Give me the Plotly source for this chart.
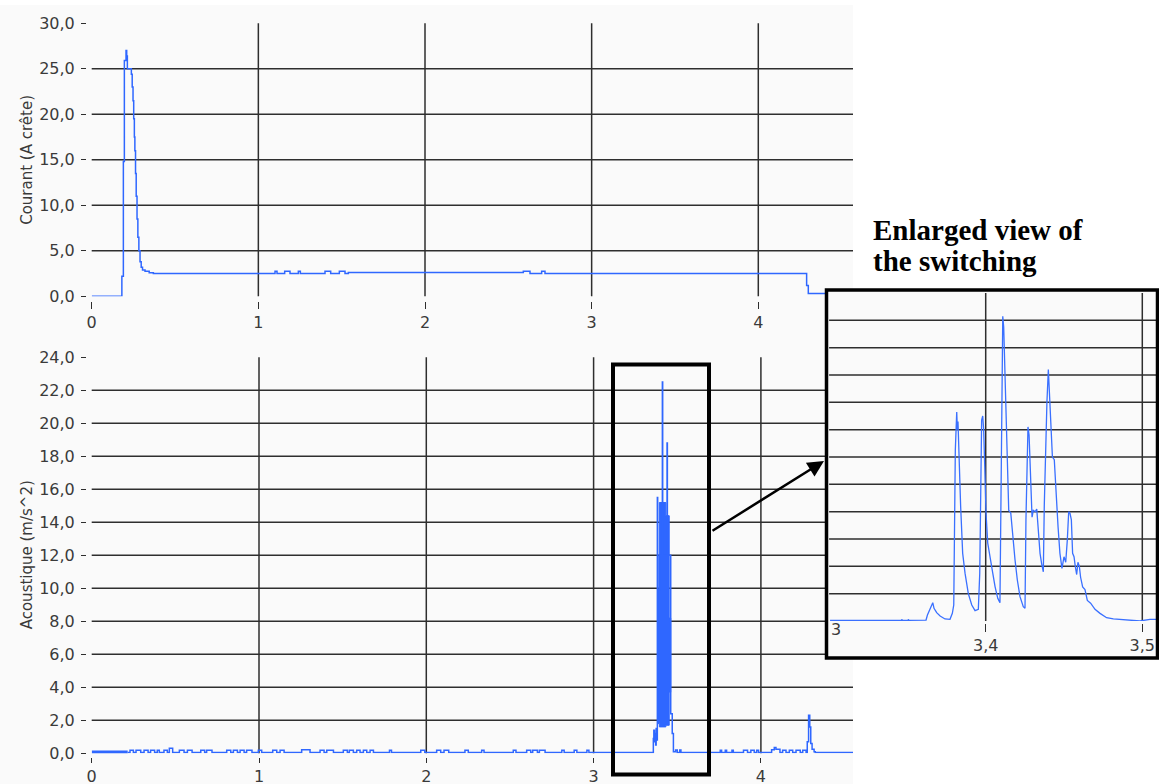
import plotly.graph_objects as go

W, H = 1159, 784

# ---------------- data ----------------
# Courant (A crête) versus time (s), step-held samples
cur_t = [0.0, 0.181, 0.190, 0.196, 0.206, 0.210, 0.214, 0.238, 0.243, 0.248, 0.252,
         0.256, 0.259, 0.263, 0.267, 0.272, 0.277, 0.283, 0.290, 0.297, 0.305, 0.320,
         0.345, 0.370, 1.100, 1.112, 1.158, 1.190, 1.240, 1.252, 1.400, 1.434, 1.486,
         1.520, 1.540, 2.590, 2.630, 2.700, 2.720, 4.290, 4.300, 4.410]
cur_a = [0.0, 2.2, 14.8, 25.9, 27.0, 26.4, 25.0, 24.4, 23.0, 21.5, 19.5,
         17.5, 16.0, 13.5, 11.0, 8.5, 6.5, 5.0, 3.8, 3.2, 2.9, 2.75,
         2.6, 2.5, 2.75, 2.5, 2.75, 2.5, 2.75, 2.5, 2.75, 2.5, 2.75,
         2.5, 2.62, 2.75, 2.5, 2.75, 2.5, 1.2, 0.3, 0.3]

# Acoustique (m/s^2): pre-trigger noise segment
pre_t = [0.0, 0.215]
pre_a = [0.07, 0.07]

# Acoustique (m/s^2) versus time (s), step-held samples
acc_t = [0.215,
         0.229, 0.249, 0.265, 0.293, 0.313, 0.337, 0.352, 0.376, 0.392, 0.404,
         0.432, 0.452, 0.464, 0.484, 0.524, 0.552, 0.572, 0.600, 0.652, 0.675,
         0.687, 0.719, 0.807, 0.831, 0.847, 0.871, 0.887, 0.911, 0.926, 0.958,
         0.996, 1.016, 1.082, 1.106, 1.126, 1.150, 1.255, 1.305, 1.365, 1.389,
         1.405, 1.445, 1.504, 1.528, 1.540, 1.564, 1.584, 1.604, 1.624, 1.644,
         1.664, 1.684, 1.780, 1.792, 1.967, 1.991, 2.062, 2.086, 2.106, 2.134,
         2.231, 2.251, 2.331, 2.345, 2.520, 2.536, 2.600, 2.624, 2.636, 2.664,
         2.676, 2.710, 2.810, 2.824, 2.884, 2.900, 2.960, 2.972,
         3.357, 3.360, 3.364, 3.367, 3.371, 3.374, 3.378,
         3.381, 3.383, 3.393, 3.411, 3.413, 3.439, 3.441, 3.461, 3.470, 3.477,
         3.490, 3.500, 3.515, 3.522,
         3.757, 3.765, 3.787, 3.795, 3.827, 3.835,
         3.896, 3.920, 3.940, 3.960, 3.975, 3.986,
         4.064, 4.080, 4.090, 4.114,
         4.130, 4.150, 4.170, 4.190, 4.210, 4.235, 4.250, 4.270,
         4.277, 4.285, 4.292, 4.298, 4.306, 4.318, 4.325, 4.551]
acc_a = [0.05,
         0.18, 0.05, 0.18, 0.05, 0.18, 0.05, 0.18, 0.05, 0.18, 0.05,
         0.18, 0.05, 0.30, 0.05, 0.18, 0.05, 0.18, 0.05, 0.18, 0.05,
         0.18, 0.05, 0.18, 0.05, 0.18, 0.05, 0.18, 0.05, 0.18, 0.05,
         0.18, 0.05, 0.18, 0.05, 0.18, 0.05, 0.22, 0.05, 0.18, 0.05,
         0.18, 0.05, 0.18, 0.05, 0.18, 0.05, 0.18, 0.05, 0.18, 0.05,
         0.18, 0.05, 0.18, 0.05, 0.18, 0.05, 0.18, 0.05, 0.18, 0.05,
         0.18, 0.05, 0.18, 0.05, 0.18, 0.05, 0.18, 0.05, 0.18, 0.05,
         0.18, 0.05, 0.18, 0.05, 0.18, 0.05, 0.18, 0.05,
         0.9, 1.4, 0.7, 1.2, 0.5, 1.5, 0.8,
         15.5, 9.9, 12.0, 22.5, 12.0, 18.8, 12.0, 2.4, 1.2, 0.1,
         0.2, 0.05, 0.2, 0.05,
         0.18, 0.05, 0.18, 0.05, 0.18, 0.05,
         0.18, 0.05, 0.18, 0.05, 0.18, 0.05,
         0.22, 0.35, 0.25, 0.05,
         0.18, 0.05, 0.18, 0.05, 0.18, 0.05, 0.18, 0.05,
         0.7, 2.3, 1.6, 0.6, 0.25, 0.1, 0.05, 0.05]

# envelope of the dense oscillation during the switching burst (step-held)
burst_t = [3.381, 3.393, 3.432, 3.452, 3.461]
burst_hi = [9.9, 15.2, 14.4, 8.2, 8.2]
burst_lo = [1.8, 1.6, 1.7, 3.7, 3.7]

# enlarged acoustic signal around the switching
zoom_t = [3.3006, 3.3462, 3.3464, 3.3468, 3.3504, 3.3506, 3.3510,
          3.3619, 3.3628, 3.3640, 3.3651, 3.3662, 3.3670, 3.3687, 3.3709, 3.3740,
          3.3772, 3.3787, 3.3796, 3.3800, 3.3806, 3.3815, 3.3819, 3.3823, 3.3830,
          3.3840, 3.3853, 3.3868, 3.3889, 3.3911, 3.3932, 3.3953, 3.3962, 3.3968,
          3.3974, 3.3981, 3.3987, 3.3994, 3.4002, 3.4013, 3.4028, 3.4045, 3.4060,
          3.4077, 3.4091, 3.4096, 3.4102, 3.4109, 3.4115, 3.4123, 3.4134, 3.4147,
          3.4160, 3.4172, 3.4187, 3.4202, 3.4219, 3.4240, 3.4251, 3.4257, 3.4264,
          3.4270, 3.4277, 3.4285, 3.4296, 3.4304, 3.4317, 3.4326, 3.4336, 3.4347,
          3.4357, 3.4368, 3.4374, 3.4383, 3.4391, 3.4400, 3.4406, 3.4415, 3.4426,
          3.4438, 3.4449, 3.4462, 3.4474, 3.4487, 3.4500, 3.4511, 3.4521, 3.4530,
          3.4538, 3.4547, 3.4555, 3.4564, 3.4572, 3.4581, 3.4589, 3.4598, 3.4606,
          3.4619, 3.4634, 3.4649, 3.4670, 3.4698, 3.4730, 3.4772, 3.4815, 3.4900,
          3.4985, 3.5049, 3.5107]
zoom_a = [0.05, 0.05, 0.12, 0.05, 0.05, 0.12, 0.05,
          0.07, 0.44, 0.76, 1.05, 1.34, 0.93, 0.61, 0.37, 0.15,
          0.12, 0.56, 1.17, 7.15, 12.5, 15.3, 14.0, 14.6, 11.8,
          8.4, 4.95, 3.5, 2.0, 1.17, 0.76, 0.85, 3.5, 8.6,
          14.7, 15.0, 14.0, 11.3, 7.9, 5.7, 4.5, 3.5, 2.5,
          1.66, 1.34, 6.9, 17.9, 22.3, 21.5, 18.1, 12.8, 8.1,
          7.9, 6.2, 4.5, 3.0, 1.78, 1.05, 0.93, 7.4, 11.8,
          14.2, 13.6, 10.6, 7.6, 8.1, 8.0, 8.2, 6.7, 4.95,
          4.2, 3.6, 8.4, 13.5, 16.0, 18.4, 17.1, 15.0, 12.0,
          11.8, 9.3, 6.9, 4.95, 3.85, 4.7, 4.3, 5.9, 8.0,
          7.9, 7.4, 4.95, 4.7, 4.0, 3.4, 4.3, 4.0, 3.2,
          2.5, 2.3, 1.5, 1.3, 0.85, 0.56, 0.24, 0.15, 0.07,
          0.0, 0.12, 0.12]

cur_ticks = [0, 5, 10, 15, 20, 25, 30]
acc_ticks = [0, 2, 4, 6, 8, 10, 12, 14, 16, 18, 20, 22, 24]
time_ticks = [0, 1, 2, 3, 4]
zoom_ticks = [3.4, 3.5]

# ---------------- geometry (pixels) ----------------
LEFT, RIGHT = 91.7, 853.0
TOP1, BOT1 = 23.3, 296.3
TOP2, BOT2 = 357.3, 753.3
IN_L, IN_R, IN_T, IN_B = 829.1, 1159.0, 293.0, 621.0
BOX = (826.5, 290.0, 1157.5, 658.0)
SEL = (613.0, 364.5, 709.0, 774.5)


def px(x):
    return x / W


def py(y):
    return 1 - y / H


def steps(t, v):
    """Expand step-held samples into explicit corner points."""
    xs, ys = [], []
    for i in range(len(t)):
        if i > 0:
            xs.append(t[i])
            ys.append(v[i - 1])
        xs.append(t[i])
        ys.append(v[i])
    return xs, ys


x1_max = (RIGHT - LEFT) / 166.65
x2_max = (RIGHT - LEFT) / 167.3
x3_max = 3.3 + (IN_R - IN_L) / 1566.0

BLUE = "#2f67ff"
GRID = "#2e2e2e"
TXT = "#3a3a3a"
BG = "#fafafa"
FONT = "DejaVu Sans"

# closed outline of the burst envelope (upper edge forward, lower edge back)
hx, hy = steps(burst_t, burst_hi)
lx, ly = steps(burst_t, burst_lo)
band_x = hx + lx[::-1]
band_y = hy + ly[::-1]

fig = go.Figure()

fig.add_trace(go.Scatter(x=cur_t, y=cur_a, mode="lines", line=dict(color=BLUE, width=1.5, shape="hv"),
                         xaxis="x", yaxis="y", hoverinfo="skip"))
fig.add_trace(go.Scatter(x=pre_t, y=pre_a, mode="lines", line=dict(color=BLUE, width=3.5),
                         xaxis="x2", yaxis="y2", hoverinfo="skip"))
fig.add_trace(go.Scatter(x=band_x, y=band_y, mode="lines", fill="toself", fillcolor=BLUE,
                         line=dict(color=BLUE, width=1),
                         xaxis="x2", yaxis="y2", hoverinfo="skip"))
fig.add_trace(go.Scatter(x=acc_t, y=acc_a, mode="lines", line=dict(color=BLUE, width=1.5, shape="hv"),
                         xaxis="x2", yaxis="y2", hoverinfo="skip"))
fig.add_trace(go.Scatter(x=zoom_t, y=zoom_a, mode="lines", line=dict(color="#3a70ff", width=1.3),
                         xaxis="x3", yaxis="y3", hoverinfo="skip"))

shapes = []
# background panels
shapes.append(dict(type="rect", xref="paper", yref="paper", x0=0, x1=px(RIGHT), y0=py(H), y1=py(5),
                   fillcolor=BG, line=dict(width=0), layer="below"))
shapes.append(dict(type="rect", xref="paper", yref="paper", x0=px(BOX[0]), x1=px(BOX[2]),
                   y0=py(BOX[3]), y1=py(BOX[1]), fillcolor=BG, line=dict(width=0), layer="below"))

gl = dict(color=GRID, width=1.5)
# grid of the current chart
for v in cur_ticks[1:-1]:
    shapes.append(dict(type="line", xref="x domain", yref="y", x0=0, x1=1, y0=v, y1=v, line=gl, layer="below"))
for v in time_ticks[1:]:
    shapes.append(dict(type="line", xref="x", yref="y domain", x0=v, x1=v, y0=0, y1=1, line=gl, layer="below"))
# grid of the acoustic chart; rows passing behind the enlarged view stop at its frame
cut = (BOX[0] - LEFT) / (RIGHT - LEFT)
for v in acc_ticks[1:-1]:
    hidden = (BOT2 - v * 16.5) < BOX[3]
    shapes.append(dict(type="line", xref="x2 domain", yref="y2", x0=0, x1=cut if hidden else 1,
                       y0=v, y1=v, line=gl, layer="below"))
for v in time_ticks[1:]:
    shapes.append(dict(type="line", xref="x2", yref="y2 domain", x0=v, x1=v, y0=0, y1=1, line=gl, layer="below"))
# grid of the enlarged view
for v in acc_ticks[1:-1]:
    shapes.append(dict(type="line", xref="x3 domain", yref="y3", x0=0, x1=1, y0=v, y1=v, line=gl, layer="below"))
for v in zoom_ticks:
    shapes.append(dict(type="line", xref="x3", yref="y3 domain", x0=v, x1=v, y0=0, y1=1, line=gl, layer="below"))

# frames
shapes.append(dict(type="rect", xref="paper", yref="paper", x0=px(SEL[0]), x1=px(SEL[2]),
                   y0=py(SEL[3]), y1=py(SEL[1]), line=dict(color="black", width=4), layer="above"))
shapes.append(dict(type="rect", xref="paper", yref="paper", x0=px(BOX[0]), x1=px(BOX[2]),
                   y0=py(BOX[3]), y1=py(BOX[1]), line=dict(color="black", width=3.5), layer="above"))

tickfont = dict(family=FONT, size=16, color=TXT)

annotations = [
    dict(text="Courant (A crête)", xref="paper", yref="paper", x=px(27), y=py((TOP1 + BOT1) / 2),
         xanchor="center", yanchor="middle",
         textangle=-90, showarrow=False, font=dict(family=FONT, size=15, color=TXT)),
    dict(text="Acoustique (m/s^2)", xref="paper", yref="paper", x=px(27), y=py((TOP2 + BOT2) / 2),
         xanchor="center", yanchor="middle",
         textangle=-90, showarrow=False, font=dict(family=FONT, size=15, color=TXT)),
    dict(text="<b>Enlarged view of</b>", xref="paper", yref="paper", x=px(871), y=py(248),
         xanchor="left", yanchor="bottom", showarrow=False,
         font=dict(family="Liberation Serif", size=29, color="black")),
    dict(text="<b>the switching</b>", xref="paper", yref="paper", x=px(871), y=py(279),
         xanchor="left", yanchor="bottom", showarrow=False,
         font=dict(family="Liberation Serif", size=29, color="black")),
    dict(text="3", xref="x3", yref="paper", x=3.3, y=py(641), xanchor="left", showarrow=False,
         font=tickfont),
    dict(text="", xref="paper", yref="paper", x=px(824), y=py(461), ax=711 - 824, ay=531.7 - 461,
         showarrow=True, arrowhead=2, arrowsize=1.3, arrowwidth=2.5, arrowcolor="black"),
]

axis_common = dict(showgrid=False, zeroline=False, showline=False, ticks="outside",
                   tickcolor=GRID, tickfont=tickfont, automargin=False)

fig.update_layout(
    width=W, height=H, margin=dict(l=0, r=0, t=0, b=0, pad=0, autoexpand=False),
    paper_bgcolor="white", plot_bgcolor="rgba(0,0,0,0)", showlegend=False,
    separators=", ",
    shapes=shapes, annotations=annotations,
    xaxis=dict(domain=[px(LEFT), px(RIGHT)], range=[0, x1_max], tickvals=time_ticks, tickformat="d",
               anchor="free", position=py(301), ticklen=7, **axis_common),
    yaxis=dict(domain=[py(BOT1), py(TOP1)], range=[0, 30], tickvals=cur_ticks, tickformat=".1f",
               anchor="free", position=px(86), ticklen=5, ticklabelstandoff=3, **axis_common),
    xaxis2=dict(domain=[px(LEFT), px(RIGHT)], range=[0, x2_max], tickvals=time_ticks, tickformat="d",
                anchor="free", position=py(757), ticklen=5, ticklabelstandoff=0, **axis_common),
    yaxis2=dict(domain=[py(BOT2), py(TOP2)], range=[0, 24], tickvals=acc_ticks, tickformat=".1f",
                anchor="free", position=px(86), ticklen=5, ticklabelstandoff=3, **axis_common),
    xaxis3=dict(domain=[px(IN_L), px(IN_R)], range=[3.3, x3_max], tickvals=zoom_ticks, tickformat=".1f",
                anchor="free", position=py(623), ticklen=8, **axis_common),
    yaxis3=dict(domain=[py(IN_B), py(IN_T)], range=[0, 24], showgrid=False, zeroline=False,
                showline=False, showticklabels=False, ticks="", anchor="x3"),
)

fig.write_html("out.html")
